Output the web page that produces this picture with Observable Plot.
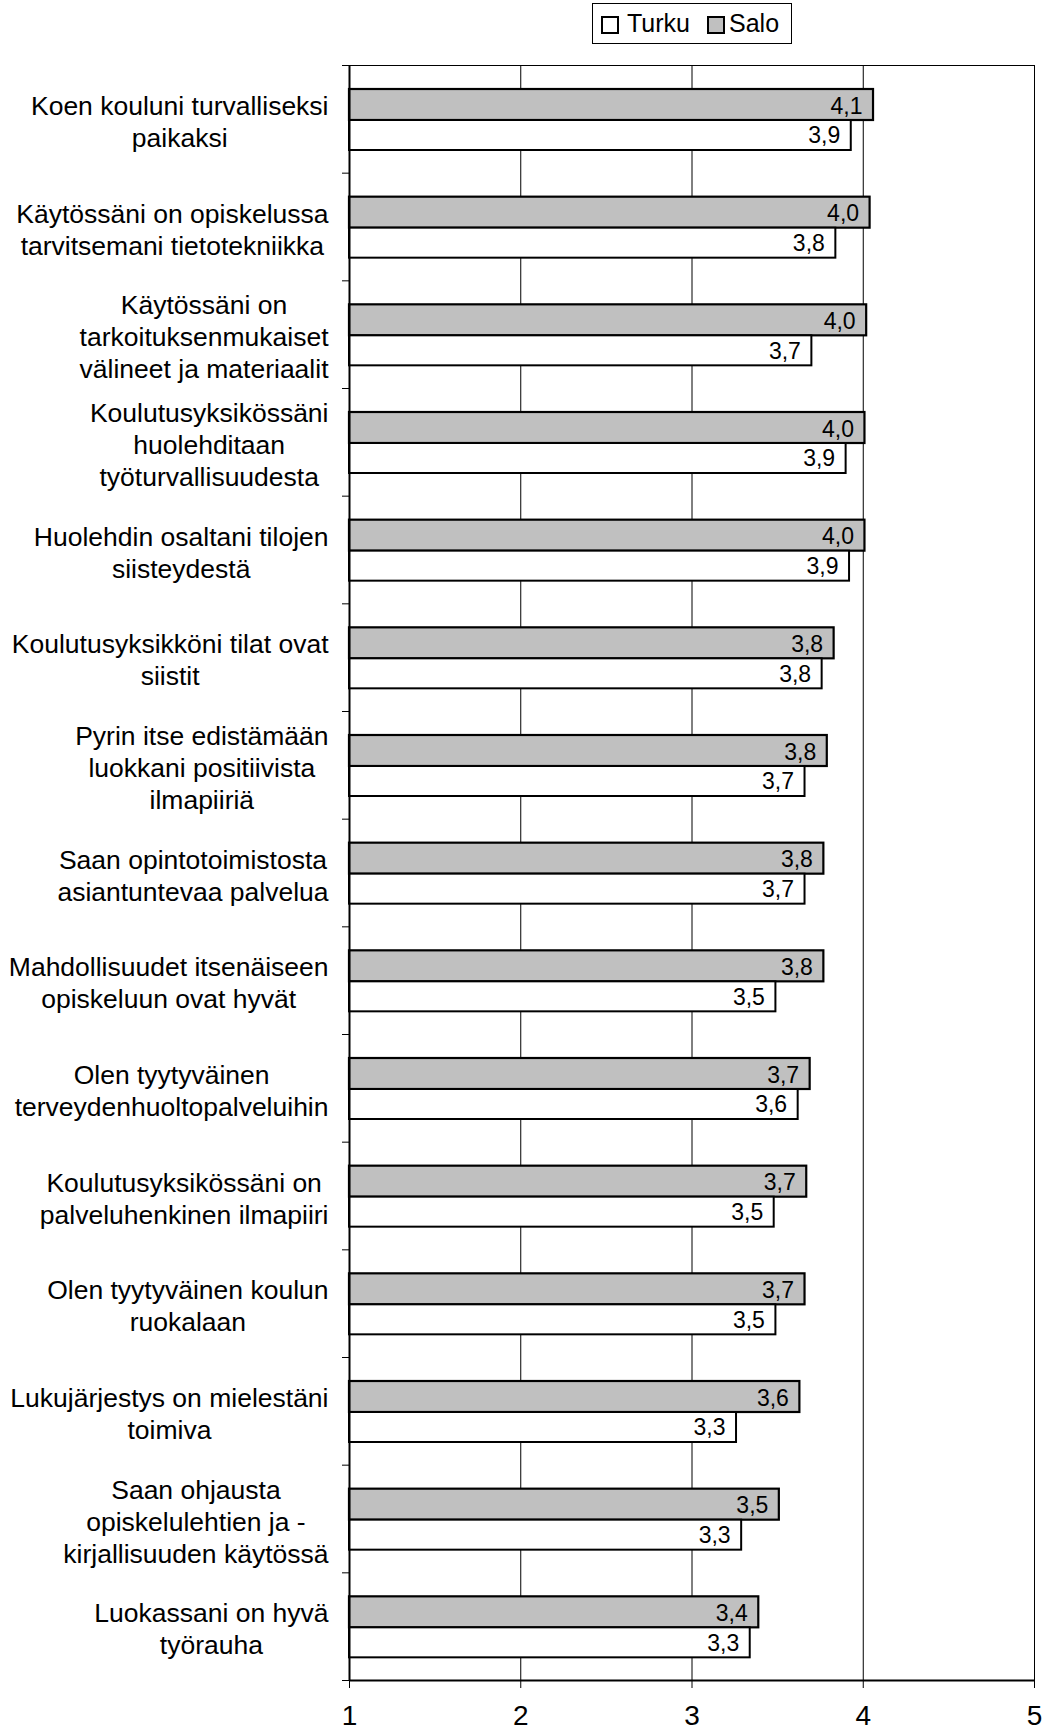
<!DOCTYPE html>
<html><head><meta charset="utf-8">
<script src="https://cdn.jsdelivr.net/npm/d3@7"></script>
<script src="https://cdn.jsdelivr.net/npm/@observablehq/plot@0.6"></script>
<style>
body{margin:0;background:#fff;font-family:"Liberation Sans",Arial,sans-serif;}
#wrap{position:relative;width:1046px;height:1730px;}
#legend{position:absolute;left:592px;top:3px;width:198px;height:39px;border:1px solid #000;background:#fff;font-size:25px;color:#000;}
#legend span{position:absolute;}
.sw{width:14px;height:14px;border:2px solid #000;top:12px;}
.lt{top:4px;line-height:30px;}
</style></head>
<body><div id="wrap"><div id="legend"></div></div>
<script>
const categories = [
  "Koen kouluni turvalliseksi\npaikaksi",
  "Käytössäni on opiskelussa\ntarvitsemani tietotekniikka",
  "Käytössäni on\ntarkoituksenmukaiset\nvälineet ja materiaalit",
  "Koulutusyksikössäni\nhuolehditaan\ntyöturvallisuudesta",
  "Huolehdin osaltani tilojen\nsiisteydestä",
  "Koulutusyksikköni tilat ovat\nsiistit",
  "Pyrin itse edistämään\nluokkani positiivista\nilmapiiriä",
  "Saan opintotoimistosta\nasiantuntevaa palvelua",
  "Mahdollisuudet itsenäiseen\nopiskeluun ovat hyvät",
  "Olen tyytyväinen\nterveydenhuoltopalveluihin",
  "Koulutusyksikössäni on\npalveluhenkinen ilmapiiri",
  "Olen tyytyväinen koulun\nruokalaan",
  "Lukujärjestys on mielestäni\ntoimiva",
  "Saan ohjausta\nopiskelulehtien ja -\nkirjallisuuden käytössä",
  "Luokassani on hyvä\ntyörauha"
];
const salo  = [4.06, 4.04, 4.02, 4.01, 4.01, 3.83, 3.79, 3.77, 3.77, 3.69, 3.67, 3.66, 3.63, 3.51, 3.39];
const turku = [3.93, 3.84, 3.70, 3.90, 3.92, 3.76, 3.66, 3.66, 3.49, 3.62, 3.48, 3.49, 3.26, 3.29, 3.34];
const seriesNames = ["Turku", "Salo"];
const seriesFill = ["#ffffff", "#c0c0c0"];
const xTicks = [1, 2, 3, 4, 5];

const font = '"Liberation Sans", Arial, sans-serif';
const W = 1046, H = 1730, mt = 65, mb = 50, ml = 349, mr = 12;
const bw = (H - mt - mb) / categories.length;
const fmt = v => v.toFixed(1).replace(".", ",");

const saloRows = categories.map((c, i) => ({category: c, value: salo[i]}));
const turkuRows = categories.map((c, i) => ({category: c, value: turku[i]}));

// measure label blocks so lines are centered within a right-aligned block
const ctx = document.createElement("canvas").getContext("2d");
const labelSize = 26.5;
ctx.font = `${labelSize}px ${font}`;
const labelMarks = categories.map(c => {
  const maxW = d3.max(c.split("\n"), s => ctx.measureText(s).width);
  return Plot.text([c], {y: d => d, text: d => d, frameAnchor: "left", textAnchor: "middle",
    lineAnchor: "middle", lineHeight: 1.21, fontSize: labelSize, fill: "#000", dy: 1.5, dx: -(21 + maxW / 2)});
});

const chart = Plot.plot({
  width: W, height: H, marginTop: mt, marginBottom: mb, marginLeft: ml, marginRight: mr,
  style: {fontFamily: font, background: "transparent", color: "#000", overflow: "visible"},
  x: {domain: [xTicks[0], xTicks[xTicks.length - 1]], label: null},
  y: {domain: categories, padding: 0, round: false, label: null},
  marks: [
    Plot.ruleX(xTicks.slice(1), {stroke: "#000", strokeWidth: 1}),
    Plot.barX(saloRows, {x1: () => xTicks[0], x2: "value", y: "category", fill: seriesFill[1], stroke: "#000", strokeWidth: 2.2, insetTop: 24, insetBottom: bw - 55}),
    Plot.barX(turkuRows, {x1: () => xTicks[0], x2: "value", y: "category", fill: seriesFill[0], stroke: "#000", strokeWidth: 2, insetTop: 55, insetBottom: bw - 85}),
    Plot.text(saloRows, {x: "value", y: "category", text: d => fmt(d.value), textAnchor: "end", dx: -11, dy: -13, fontSize: 23, fill: "#000"}),
    Plot.text(turkuRows, {x: "value", y: "category", text: d => fmt(d.value), textAnchor: "end", dx: -11, dy: 16.5, fontSize: 23, fill: "#000"}),
    Plot.frame({stroke: "#000", strokeWidth: 1}),
    Plot.ruleX([xTicks[0]], {stroke: "#000", strokeWidth: 2}),
    Plot.ruleY([categories[categories.length - 1]], {stroke: "#000", strokeWidth: 2, dy: bw / 2}),
    Plot.axisX(xTicks, {label: null, tickSize: 8, tickPadding: 17, fontSize: 28, tickFormat: d => String(d)}),
    Plot.axisY({label: null, tickSize: 7, tickFormat: () => "", dy: -bw / 2}),
    Plot.axisY([categories[categories.length - 1]], {label: null, tickSize: 7, tickFormat: () => "", dy: bw / 2}),
    ...labelMarks
  ]
});
document.getElementById("wrap").appendChild(chart);

// legend
const lg = document.getElementById("legend");
const items = [
  {cls: "sw", left: 8, fill: seriesFill[0]},
  {cls: "lt", left: 34, text: seriesNames[0]},
  {cls: "sw", left: 114, fill: seriesFill[1]},
  {cls: "lt", left: 136, text: seriesNames[1]}
];
for (const it of items) {
  const s = document.createElement("span");
  s.className = it.cls;
  s.style.left = it.left + "px";
  if (it.fill) s.style.background = it.fill;
  if (it.text) s.textContent = it.text;
  lg.appendChild(s);
}
</script></body></html>
